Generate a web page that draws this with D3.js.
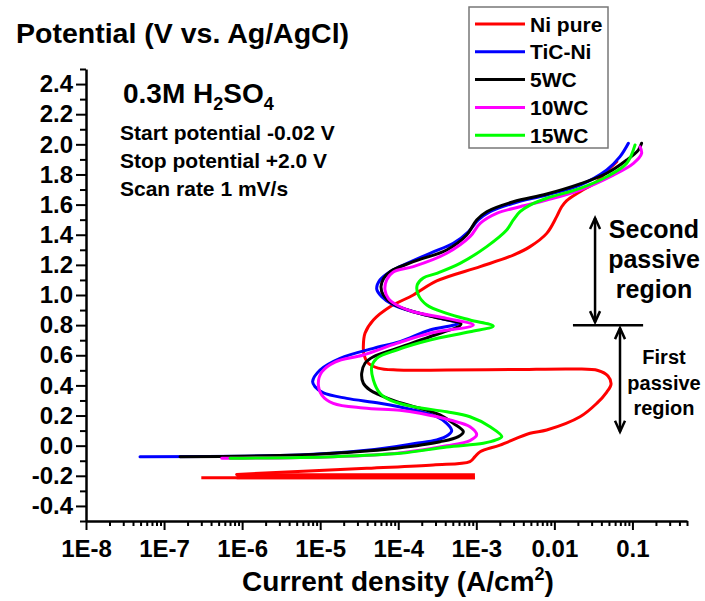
<!DOCTYPE html>
<html><head><meta charset="utf-8">
<script src="https://cdn.jsdelivr.net/npm/d3@7"></script>
<style>
html,body{margin:0;padding:0;background:#fff;}
svg text{font-family:"Liberation Sans",Arial,Helvetica,sans-serif;font-weight:bold;fill:#000;}
</style></head><body>
<svg id="chart" width="705" height="601"></svg>
<script>
// ---------- DATA: [current density (A/cm2), potential (V vs Ag/AgCl)] ----------
const seriesNames = ["Ni pure", "TiC-Ni", "5WC", "10WC", "15WC"];
const seriesColors = ["#ff0000", "#0000ff", "#000000", "#ff00ff", "#00ff00"];

const niPure = [[8.5e-7,-0.191],[3.94e-5,-0.150],[2.81e-4,-0.128],[8.29e-4,-0.106],[9.61e-4,-0.073],[1.12e-3,-0.040],[2.01e-3,0.004],[4.88e-3,0.082],[7.98e-3,0.104],[2.13e-2,0.192],[3.49e-2,0.281],[4.69e-2,0.356],[5.32e-2,0.409],[4.86e-2,0.462],[3.62e-2,0.499],[1.84e-2,0.509],[2.95e-3,0.505],[4.22e-4,0.502],[9.64e-5,0.502],[5.51e-5,0.515],[4.10e-5,0.549],[3.64e-5,0.602],[3.57e-5,0.657],[3.75e-5,0.746],[4.80e-5,0.834],[7.85e-5,0.922],[1.56e-4,1.000],[3.11e-4,1.093],[1.12e-3,1.188],[2.98e-3,1.265],[4.88e-3,1.321],[7.98e-3,1.409],[1.07e-2,1.520],[1.24e-2,1.586],[1.44e-2,1.627],[2.13e-2,1.686],[3.49e-2,1.752],[5.16e-2,1.841],[6.30e-2,1.885]];
const niPureCathodic = [[3.0e-7,-0.213],[9.6e-4,-0.213]];
const niPureBand = [[8.5e-7,-0.203],[9.6e-4,-0.203]];

const ticNi = [[4.92e-8,-0.073],[5.52e-6,-0.062],[3.94e-5,-0.031],[1.63e-4,0.014],[3.11e-4,0.038],[4.37e-4,0.071],[4.84e-4,0.099],[4.18e-4,0.148],[3.11e-4,0.192],[1.56e-4,0.237],[5.83e-5,0.281],[2.19e-5,0.314],[1.10e-5,0.350],[8.59e-6,0.391],[8.0e-6,0.425],[9.95e-6,0.502],[1.80e-5,0.580],[4.80e-5,0.646],[1.05e-4,0.690],[2.55e-4,0.768],[5.89e-4,0.812],[3.43e-4,0.845],[1.56e-4,0.889],[8.65e-5,0.934],[6.14e-5,0.989],[5.30e-5,1.040],[5.83e-5,1.100],[7.85e-5,1.155],[1.05e-4,1.188],[2.55e-4,1.277],[5.07e-4,1.343],[7.91e-4,1.420],[1.06e-3,1.498],[1.50e-3,1.553],[2.98e-3,1.609],[7.98e-3,1.664],[2.13e-2,1.730],[4.69e-2,1.830],[6.93e-2,1.918],[8.87e-2,2.007]];

const wc5 = [[1.60e-7,-0.073],[5.52e-6,-0.062],[3.94e-5,-0.035],[9.55e-5,-0.017],[3.43e-4,0.026],[5.89e-4,0.060],[6.82e-4,0.093],[5.07e-4,0.148],[3.43e-4,0.204],[1.90e-4,0.248],[9.55e-5,0.292],[5.83e-5,0.336],[4.34e-5,0.369],[3.57e-5,0.414],[3.40e-5,0.480],[3.75e-5,0.547],[4.80e-5,0.590],[9.55e-5,0.646],[2.55e-4,0.723],[6.37e-4,0.807],[3.43e-4,0.845],[1.56e-4,0.889],[8.65e-5,0.940],[6.44e-5,1.000],[6.01e-5,1.055],[6.5e-5,1.110],[7.85e-5,1.155],[1.56e-4,1.221],[4.18e-4,1.299],[7.53e-4,1.398],[1.01e-3,1.498],[1.36e-3,1.553],[2.98e-3,1.619],[7.98e-3,1.670],[2.13e-2,1.737],[4.69e-2,1.808],[8.45e-2,1.896],[0.119,1.962],[0.131,2.007]];

const wc10 = [[5.47e-7,-0.084],[1.47e-5,-0.073],[1.05e-4,-0.048],[4.18e-4,-0.001],[8.29e-4,0.034],[1.01e-3,0.071],[8.29e-4,0.126],[4.60e-4,0.170],[1.90e-4,0.215],[1.05e-4,0.235],[3.57e-5,0.250],[1.47e-5,0.281],[1.05e-5,0.336],[9.46e-6,0.414],[1.05e-5,0.489],[1.55e-5,0.555],[3.57e-5,0.602],[9.55e-5,0.679],[2.55e-4,0.746],[9.16e-4,0.801],[4.18e-4,0.845],[1.56e-4,0.889],[9.55e-5,0.934],[7.46e-5,0.978],[6.76e-5,1.033],[7.11e-5,1.100],[8.65e-5,1.153],[1.56e-4,1.188],[4.18e-4,1.277],[8.29e-4,1.387],[1.12e-3,1.476],[1.82e-3,1.542],[3.63e-3,1.586],[7.98e-3,1.630],[2.13e-2,1.697],[5.69e-2,1.796],[0.103,1.874],[0.131,1.940],[0.125,1.984]];

const wc15 = [[7.0e-7,-0.084],[1.47e-5,-0.073],[1.05e-4,-0.051],[4.18e-4,-0.009],[1.23e-3,0.016],[1.79e-3,0.038],[2.12e-3,0.060],[1.50e-3,0.126],[8.29e-4,0.192],[4.18e-4,0.225],[1.56e-4,0.259],[7.85e-5,0.303],[5.83e-5,0.348],[4.80e-5,0.436],[4.57e-5,0.524],[5.30e-5,0.580],[9.55e-5,0.635],[2.55e-4,0.701],[8.29e-4,0.756],[1.65e-3,0.794],[8.29e-4,0.834],[4.18e-4,0.878],[2.32e-4,0.934],[1.81e-4,1.000],[1.75e-4,1.066],[2.09e-4,1.113],[3.11e-4,1.144],[6.18e-4,1.210],[1.36e-3,1.321],[2.45e-3,1.431],[2.98e-3,1.498],[3.63e-3,1.553],[4.88e-3,1.597],[7.98e-3,1.642],[2.13e-2,1.708],[4.69e-2,1.785],[8.45e-2,1.874],[0.108,1.996]];

const xTickValues = [1e-8, 1e-7, 1e-6, 1e-5, 1e-4, 1e-3, 1e-2, 1e-1];
const xTickLabels = ["1E-8", "1E-7", "1E-6", "1E-5", "1E-4", "1E-3", "0.01", "0.1"];
const yTickValues = [-0.4, -0.2, 0, 0.2, 0.4, 0.6, 0.8, 1.0, 1.2, 1.4, 1.6, 1.8, 2.0, 2.2, 2.4];
const infoLines = ["Start potential -0.02 V", "Stop potential +2.0 V", "Scan rate 1 mV/s"];

// ---------- CHART ----------
const svg = d3.select("#chart");
const FONT = '"Liberation Sans", Arial, Helvetica, sans-serif';
const x = d3.scaleLog().domain([1e-8, 0.5]).range([86, 687]);
const y = d3.scaleLinear().domain([-0.5, 2.5]).range([521, 69]);

// minor ticks
const xMinor = [];
for (let e = -8; e <= -1; e++) for (let k = 2; k <= 9; k++) { const v = k * Math.pow(10, e); if (v <= 0.5 + 1e-12) xMinor.push(v); }
const yMinor = d3.range(-5, 26).map(i => i / 10).filter(v => Math.abs(Math.round(v * 10) % 2) === 1);

const gyMinor = svg.append("g").attr("transform", `translate(${x.range()[0]},0)`)
  .call(d3.axisLeft(y).tickValues(yMinor).tickSize(6).tickSizeOuter(0).tickFormat(""));
gyMinor.select(".domain").remove();
gyMinor.selectAll(".tick line").attr("stroke-width", 2);

const gxMinor = svg.append("g").attr("transform", `translate(0,${y.range()[0]})`)
  .call(d3.axisBottom(x).tickValues(xMinor).tickSize(5).tickSizeOuter(0).tickFormat(""));
gxMinor.select(".domain").remove();
gxMinor.selectAll(".tick line").attr("stroke-width", 2);

const gy = svg.append("g").attr("transform", `translate(${x.range()[0]},0)`)
  .call(d3.axisLeft(y).tickValues(yTickValues).tickFormat(d => d.toFixed(1)).tickSize(10).tickSizeOuter(0).tickPadding(3));
gy.attr("font-family", FONT).attr("font-size", 24).attr("font-weight", "bold");
gy.select(".domain").attr("stroke-width", 2.5);
gy.selectAll(".tick line").attr("stroke-width", 2);

const gx = svg.append("g").attr("transform", `translate(0,${y.range()[0]})`)
  .call(d3.axisBottom(x).tickValues(xTickValues).tickFormat((d, i) => xTickLabels[i]).tickSize(9).tickSizeOuter(0).tickPadding(10));
gx.attr("font-family", FONT).attr("font-size", 24).attr("font-weight", "bold");
gx.select(".domain").attr("stroke-width", 2.5);
gx.selectAll(".tick line").attr("stroke-width", 2);

// curves
const straight = d3.line().x(d => x(d[0])).y(d => y(d[1]));
const smooth = d3.line().x(d => x(d[0])).y(d => y(d[1])).curve(d3.curveCatmullRom.alpha(0.5));
svg.append("path").datum(niPureCathodic).attr("d", straight).attr("fill", "none")
  .attr("stroke", seriesColors[0]).attr("stroke-width", 3);
svg.append("path").datum(niPureBand).attr("d", straight).attr("fill", "none")
  .attr("stroke", seriesColors[0]).attr("stroke-width", 6);
[niPure, ticNi, wc5, wc10, wc15].forEach((s, i) => {
  svg.append("path").datum(s).attr("d", smooth).attr("fill", "none")
    .attr("stroke", seriesColors[i]).attr("stroke-width", 3)
    .attr("stroke-linejoin", "round").attr("stroke-linecap", "round");
});

// axis titles
svg.append("text").attr("x", 16).attr("y", 43).attr("font-size", 28.5).text("Potential (V vs. Ag/AgCl)");
const xt = svg.append("text").attr("x", 398).attr("y", 591).attr("font-size", 28).attr("text-anchor", "middle");
xt.append("tspan").text("Current density (A/cm");
xt.append("tspan").attr("font-size", 18).attr("dy", -11).text("2");
xt.append("tspan").attr("dy", 11).text(")");

// solution label
const sol = svg.append("text").attr("x", 123).attr("y", 103).attr("font-size", 28);
sol.append("tspan").text("0.3M H");
sol.append("tspan").attr("font-size", 18).attr("dy", 7).text("2");
sol.append("tspan").attr("dy", -7).text("SO");
sol.append("tspan").attr("font-size", 18).attr("dy", 7).text("4");

infoLines.forEach((t, i) => {
  svg.append("text").attr("x", 120).attr("y", 140 + i * 28).attr("font-size", 21).text(t);
});

// legend
const lg = svg.append("g");
lg.append("rect").attr("x", 469).attr("y", 7).attr("width", 139).attr("height", 141)
  .attr("fill", "#fff").attr("stroke", "#777").attr("stroke-width", 1.5);
seriesNames.forEach((n, i) => {
  const yy = 24 + i * 27.8;
  lg.append("line").attr("x1", 475).attr("x2", 525).attr("y1", yy).attr("y2", yy)
    .attr("stroke", seriesColors[i]).attr("stroke-width", 3);
  lg.append("text").attr("x", 530).attr("y", yy).attr("dy", "0.36em").attr("font-size", 21).text(n);
});

// annotations (double arrows)
function arrowHead(g, px, py, dir) {
  g.append("path").attr("d", `M${px - 5},${py - dir * 11} L${px},${py} L${px + 5},${py - dir * 11}`)
    .attr("fill", "none").attr("stroke", "#000").attr("stroke-width", 2.5);
}
const ann = svg.append("g");
const aUpX = x(0.0332), aLoX = x(0.0693);
const ySep = y(0.80);
ann.append("line").attr("x1", x(0.0173)).attr("x2", x(0.137)).attr("y1", ySep).attr("y2", ySep)
  .attr("stroke", "#000").attr("stroke-width", 2.5);
ann.append("line").attr("x1", aUpX).attr("x2", aUpX).attr("y1", y(1.511)).attr("y2", ySep - 3)
  .attr("stroke", "#000").attr("stroke-width", 2.5);
arrowHead(ann, aUpX, y(1.511), -1);
arrowHead(ann, aUpX, ySep - 3, 1);
ann.append("line").attr("x1", aLoX).attr("x2", aLoX).attr("y1", ySep + 3).attr("y2", y(0.093))
  .attr("stroke", "#000").attr("stroke-width", 2.5);
arrowHead(ann, aLoX, ySep + 3, -1);
arrowHead(ann, aLoX, y(0.093), 1);

["Second", "passive", "region"].forEach((t, i) => {
  svg.append("text").attr("x", 654).attr("y", 238 + i * 30).attr("font-size", 25)
    .attr("text-anchor", "middle").text(t);
});
["First", "passive", "region"].forEach((t, i) => {
  svg.append("text").attr("x", 664).attr("y", 364 + i * 25.5).attr("font-size", 20)
    .attr("text-anchor", "middle").text(t);
});
</script>
</body></html>
